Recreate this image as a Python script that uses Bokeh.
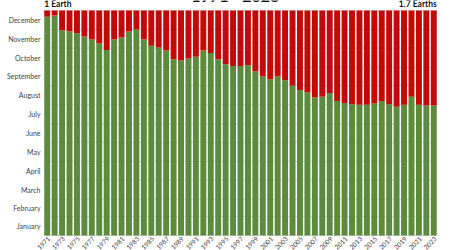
from bokeh.plotting import figure
from bokeh.models import Label, ColumnDataSource
from bokeh.embed import file_html
from bokeh.resources import INLINE
from bokeh.core.properties import value
import math

years = list(range(1971, 2024))
overshoot_day = [355, 357, 333, 331, 328, 323, 318, 312, 301, 318, 321, 331, 334, 318, 308, 305, 300,
                 286, 284, 287, 290, 300, 296, 286, 278, 275, 275, 276, 266, 258, 253, 258, 252, 243, 236,
                 232, 224, 225, 231, 218, 215, 213, 212, 212, 214, 218, 213, 209, 212, 225, 212, 211, 211]
year_end = 365
month_names = ["January", "February", "March", "April", "May", "June", "July",
               "August", "September", "October", "November", "December"]
month_starts = [0, 31, 59, 90, 120, 151, 181, 212, 243, 273, 304, 334, 365]
title_text = "1971 - 2023"
left_note = "1 Earth"
right_note = "1.7 Earths"

month_mids = [(month_starts[i] + month_starts[i + 1]) / 2 for i in range(12)]
label_years = [y for y in years if y % 2 == 1]

first, last = years[0] - 0.5, years[-1] + 0.5

src = ColumnDataSource(dict(year=years, day=overshoot_day, end=[year_end] * len(years)))
year_src = ColumnDataSource(dict(year=label_years, y=[0] * len(label_years),
                                 txt=[str(y) for y in label_years]))
month_src = ColumnDataSource(dict(x=[first] * 12, y=month_mids, txt=month_names))
grid_src = ColumnDataSource(dict(x0=[first] * len(month_starts), x1=[last] * len(month_starts),
                                 y=month_starts))

# frame covers the whole canvas; extra range leaves room for the labels
W, H = 450, 250
plot_left, plot_right, plot_top, plot_bottom = 43, 437, 10, 235
ppy = (plot_right - plot_left) / (last - first)
ppd = (plot_bottom - plot_top) / year_end
x_start = first - plot_left / ppy
x_end = last + (W - plot_right) / ppy
y_start = -(H - plot_bottom) / ppd
y_end = year_end + plot_top / ppd

p = figure(width=W, height=H, output_backend="svg", toolbar_location=None,
           x_range=(x_start, x_end), y_range=(y_start, y_end),
           min_border_left=0, min_border_right=0, min_border_top=0, min_border_bottom=0)
p.axis.visible = False
p.grid.visible = False
p.outline_line_color = None
p.background_fill_color = "white"
p.border_fill_color = "white"

p.segment(x0="x0", y0="y", x1="x1", y1="y", source=grid_src, line_color="#d8d8d8", line_width=1)

p.vbar(x="year", bottom=0, top="day", width=0.8, source=src, fill_color="#5d8b3e", line_color=None)
p.vbar(x="year", bottom="day", top="end", width=0.8, source=src, fill_color="#c20a0a", line_color=None)

p.text(x="x", y="y", text="txt", source=month_src, x_offset=-3,
       text_align="right", text_baseline="middle",
       text_font=value("Lato"), text_font_size="7px", text_color="#444444")

p.text(x="year", y="y", text="txt", source=year_src, angle=math.pi / 4,
       text_align="right", text_baseline="middle", x_offset=2, y_offset=2.5,
       text_font=value("Lato"), text_font_size="6.5px", text_color="#444444")

p.add_layout(Label(x=first + 0.1, y=year_end, y_offset=7, text=left_note, text_font="Lato",
                   text_font_style="bold", text_font_size="8.5px", text_color="#111111",
                   text_baseline="alphabetic", text_align="left"))
p.add_layout(Label(x=last - 0.1, y=year_end, y_offset=7, text=right_note, text_font="Lato",
                   text_font_style="bold", text_font_size="8.5px", text_color="#111111",
                   text_baseline="alphabetic", text_align="right"))
p.add_layout(Label(x=1996.3, y=year_end, y_offset=15.5, text=title_text, text_font="Lato",
                   text_font_style="bold", text_font_size="16px", text_color="#111111",
                   text_baseline="alphabetic", text_align="center"))

open("out.html", "w").write(file_html(p, INLINE))
